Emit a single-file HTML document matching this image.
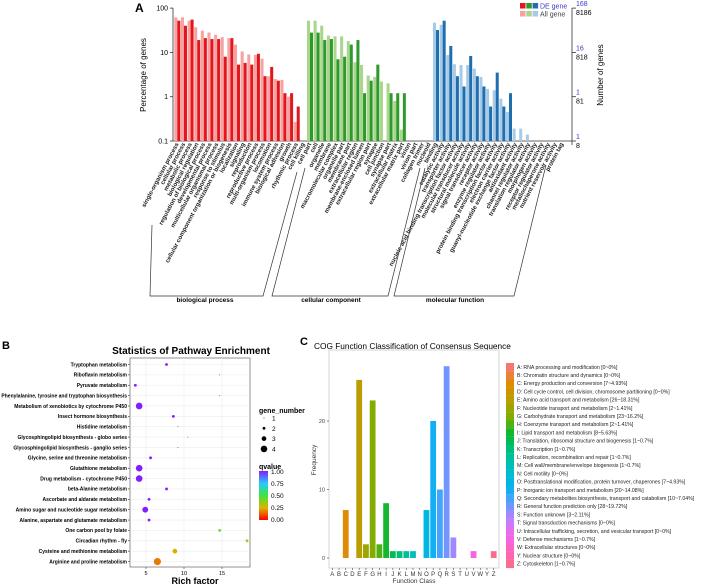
<!DOCTYPE html>
<html><head><meta charset="utf-8"><style>
body{margin:0;background:#fff}
svg{display:block;font-family:"Liberation Sans",sans-serif}
</style></head><body>
<svg id="s" width="708" height="585" viewBox="0 0 708 585" xmlns="http://www.w3.org/2000/svg"></svg>
<script>
// ---------- Panel A data ----------
const goCats = ["single-organism process","cellular process","metabolic process","biological regulation","regulation of biological process","developmental process","multicellular organismal process","response to stimulus","cellular component organization or biogenesis","localization","signaling","reproduction","reproductive process","multi-organism process","locomotion","immune system process","biological adhesion","growth","rhythmic process","cell killing",
"cell part","cell","organelle","membrane","macromolecular complex","organelle part","membrane part","extracellular region","membrane-enclosed lumen","extracellular region part","synapse","cell junction","synapse part","extracellular matrix","extracellular matrix part","virion","virion part","collagen trimer","nucleoid",
"binding","catalytic activity","transporter activity","nucleic acid binding transcription factor activity","molecular transducer activity","structural molecule activity","signal transducer activity","receptor activity","enzyme regulator activity","protein binding transcription factor activity","electron carrier activity","guanyl-nucleotide exchange factor activity","antioxidant activity","channel regulator activity","translation regulator activity","morphogen activity","receptor regulator activity","metallochaperone activity","nutrient reservoir activity","protein tag"];
const goGroup = [0,0,0,0,0,0,0,0,0,0,0,0,0,0,0,0,0,0,0,0, 1,1,1,1,1,1,1,1,1,1,1,1,1,1,1,1,1,1,1, 2,2,2,2,2,2,2,2,2,2,2,2,2,2,2,2,2,2,2,2,2];
const allPct = [62,62,52,37,31,28,25,22,21,15,10.5,9,8.8,7.2,2.9,2.5,2.4,1.0,0.27,0,
52,52,40,24,23,23,18,6,5.2,3,2.8,2.2,2.0,0.8,0.18,0,0,0,0,
47,42,8.7,5.4,5.2,5.2,4.3,2.8,1.5,1.4,0.9,0.45,0.19,0.19,0.14,0,0,0,0,0,0];
const dePct = [52,40,55,19,21,20,20,8,21,5.3,5.8,5.3,9.3,2.9,4.7,2.3,1.2,1.2,0.6,0,
28,28,19,20,7,8,15,19,1.2,2.3,5.3,0,1.2,1.2,1.2,0,0,0,0,
32,52,14,2.9,1.7,8.3,2.9,1.7,0.6,3.5,0.6,1.2,0,0,0,0,0,0,0,0,0];
const pctTicks = [0.1,1,10,100];
const pctTickLabels = ["0.1","1","10","100"];
const deTickLabels = ["1","1","16","168"];
const allTickLabels = ["8","81","818","8186"];

// ---------- Panel B data ----------
const pathways = ["Tryptophan metabolism","Riboflavin metabolism","Pyruvate metabolism","Phenylalanine, tyrosine and tryptophan biosynthesis","Metabolism of xenobiotics by cytochrome P450","Insect hormone biosynthesis","Histidine metabolism","Glycosphingolipid biosynthesis - globo series","Glycosphingolipid biosynthesis - ganglio series","Glycine, serine and threonine metabolism","Glutathione metabolism","Drug metabolism - cytochrome P450","beta-Alanine metabolism","Ascorbate and aldarate metabolism","Amino sugar and nucleotide sugar metabolism","Alanine, aspartate and glutamate metabolism","One carbon pool by folate","Circadian rhythm - fly","Cysteine and methionine metabolism","Arginine and proline metabolism"];
const richFactor = [7.7,14.7,3.6,14.7,4.1,8.6,9.2,10.5,9.2,5.6,4.1,4.1,7.7,5.4,4.9,5.4,14.7,18.3,8.8,6.5];
const geneNumber = [2,1,2,1,4,2,1,1,1,2,4,4,2,2,3.6,2,2,2,3,4.3];
const qvalue = [1,1,1,1,1,1,1,1,1,1,1,1,1,1,1,1,0.42,0.3,0.24,0.17];
const richTicks = [5,10,15];
const qTicks = [0,0.25,0.5,0.75,1];

// ---------- Panel C data ----------
const cogClasses = ["A","B","C","D","E","F","G","H","I","J","K","L","M","N","O","P","Q","R","S","T","U","V","W","Y","Z"];
const cogFreq = [0,0,7,0,26,2,23,2,8,1,1,1,1,0,7,20,10,28,3,0,0,1,0,0,1];
const cogDesc = ["A: RNA processing and modification [0~0%]","B: Chromatin structure and dynamics [0~0%]","C: Energy production and conversion [7~4.93%]","D: Cell cycle control, cell division, chromosome partitioning [0~0%]","E: Amino acid transport and metabolism [26~18.31%]","F: Nucleotide transport and metabolism [2~1.41%]","G: Carbohydrate transport and metabolism [23~16.2%]","H: Coenzyme transport and metabolism [2~1.41%]","I: Lipid transport and metabolism [8~5.63%]","J: Translation, ribosomal structure and biogenesis [1~0.7%]","K: Transcription [1~0.7%]","L: Replication, recombination and repair [1~0.7%]","M: Cell wall/membrane/envelope biogenesis [1~0.7%]","N: Cell motility [0~0%]","O: Posttranslational modification, protein turnover, chaperones [7~4.93%]","P: Inorganic ion transport and metabolism [20~14.08%]","Q: Secondary metabolites biosynthesis, transport and catabolism [10~7.04%]","R: General function prediction only [28~19.72%]","S: Function unknown [3~2.11%]","T: Signal transduction mechanisms [0~0%]","U: Intracellular trafficking, secretion, and vesicular transport [0~0%]","V: Defense mechanisms [1~0.7%]","W: Extracellular structures [0~0%]","Y: Nuclear structure [0~0%]","Z: Cytoskeleton [1~0.7%]"];
const freqTicks = [0,10,20];

const svg = document.getElementById('s');
const NS = "http://www.w3.org/2000/svg";
function mk(tag, attrs, parent, text){
  const e = document.createElementNS(NS, tag);
  for (const k in attrs) e.setAttribute(k, attrs[k]);
  if (text !== undefined) e.textContent = text;
  (parent || svg).appendChild(e);
  return e;
}
function grp(name){ const g = mk('g', {});   return g; }

// ===================== Panel A =====================
const gA = grp('go-panel-a');
const aL = 174, aR = 572, aBottom = 141, aDec = 44.3;
const slot = (aR - aL) / 60;
const yA = v => aBottom - (Math.log10(v) + 1) * aDec;
const xA = i => aL + i * slot;
const darkC = ['#e3161e', '#2f9a2c', '#1f6fb0'];
const lightC = ['#f6a2a0', '#a9d58c', '#a7cbe6'];
let t = mk('text', {x:135, y:12, 'font-size':12, 'font-weight':'bold'}, gA, 'A');
 
let ax = mk('line', {x1:aL-1, y1:yA(100), x2:aL-1, y2:aBottom, stroke:'#333', 'stroke-width':0.8}, gA);
 
ax = mk('line', {x1:aL-1, y1:aBottom, x2:aR, y2:aBottom, stroke:'#333', 'stroke-width':0.8}, gA);
 
ax = mk('line', {x1:aR, y1:yA(100), x2:aR, y2:aBottom+4, stroke:'#333', 'stroke-width':0.8}, gA);
 
pctTicks.forEach((v, k) => {
  const y = yA(v);
  mk('line', {x1:aL-4, y1:y, x2:aL-1, y2:y, stroke:'#333', 'stroke-width':0.8}, gA);
  const tl = mk('text', {x:aL-6, y:y+2.5, 'font-size':7, 'text-anchor':'end'}, gA, pctTickLabels[k]);
   
  mk('line', {x1:aR, y1:y, x2:aR+4, y2:y, stroke:'#333', 'stroke-width':0.8}, gA);
  const t1 = mk('text', {x:aR+4, y:y-2, 'font-size':7, fill:'#3a3acc'}, gA, deTickLabels[k]);
   
  const t2 = mk('text', {x:aR+4, y:y+7, 'font-size':7}, gA, allTickLabels[k]);
   
});
t = mk('text', {x:0, y:0, 'font-size':8, 'text-anchor':'middle', transform:'translate(146,75) rotate(-90)'}, gA, 'Percentage of genes');
 
t = mk('text', {x:0, y:0, 'font-size':8, 'text-anchor':'middle', transform:'translate(603,75) rotate(-90)'}, gA, 'Number of genes');
 
goCats.forEach((c, i) => {
  const g = goGroup[i], x = xA(i), bw = slot/2 - 0.3;
  if (allPct[i] > 0) {
    const r = mk('rect', {x:x+0.3, y:yA(allPct[i]), width:bw, height:aBottom - yA(allPct[i]), fill:lightC[g]}, gA);
     
  }
  if (dePct[i] > 0) {
    const r = mk('rect', {x:x+slot/2, y:yA(dePct[i]), width:bw, height:aBottom - yA(dePct[i]), fill:darkC[g]}, gA);
     
  }
  const cx = x + slot/2 + 1.5;
  const lb = mk('text', {x:0, y:0, 'font-size':6.1, 'font-weight':'bold', 'text-anchor':'end', fill:'#222', transform:`translate(${cx},${aBottom+3}) rotate(-62)`}, gA, c);
   
});
const brk = [['biological process', 205], ['cellular component', 331], ['molecular function', 455]];
let pl = mk('polyline', {points:'152,225 150,296 263,296 297,172', fill:'none', stroke:'#333', 'stroke-width':0.7}, gA);
 
pl = mk('polyline', {points:'305,168 272,296 388,296 420,168', fill:'none', stroke:'#333', 'stroke-width':0.7}, gA);
 
pl = mk('polyline', {points:'425,168 394,296 514,296 546,165', fill:'none', stroke:'#333', 'stroke-width':0.7}, gA);
 
brk.forEach(b => {
  const bt = mk('text', {x:b[1], y:302, 'font-size':6.5, 'font-weight':'bold', 'text-anchor':'middle'}, gA, b[0]);
   
});
const gLeg = grp('go-legend');
[0,1,2].forEach(k => {
  mk('rect', {x:520+k*6.3, y:3, width:5.5, height:5.5, fill:darkC[k]}, gLeg);
  mk('rect', {x:520+k*6.3, y:11, width:5.5, height:5.5, fill:lightC[k]}, gLeg);
});
t = mk('text', {x:540, y:8.5, 'font-size':7, fill:'#3a3acc'}, gLeg, 'DE gene');
 
t = mk('text', {x:540, y:16.5, 'font-size':7, fill:'#444'}, gLeg, 'All gene');
 

// ===================== Panel B =====================
const gB = grp('pathway-panel-b');
const bL = 130, bR = 250, bT = 358, bB = 567;
const xB = v => 108 + v * 7.6;
const yB = i => 364.5 + i * 10.37;
t = mk('text', {x:2, y:349, 'font-size':11, 'font-weight':'bold'}, gB, 'B');
 
t = mk('text', {x:191, y:354, 'font-size':10, 'font-weight':'bold', 'text-anchor':'middle'}, gB, 'Statistics of Pathway Enrichment');
 
let pa = mk('rect', {x:bL, y:bT, width:bR-bL, height:bB-bT, fill:'#fff', stroke:'#777', 'stroke-width':0.8}, gB);
 
richTicks.forEach(v => {
  mk('line', {x1:xB(v), y1:bT, x2:xB(v), y2:bB, stroke:'#ececec', 'stroke-width':0.6}, gB);
  mk('line', {x1:xB(v), y1:bB, x2:xB(v), y2:bB+2, stroke:'#333', 'stroke-width':0.6}, gB);
  const tl = mk('text', {x:xB(v), y:bB+8, 'font-size':5.5, 'text-anchor':'middle'}, gB, String(v));
   
});
function qColor(q){
  const stops = [[0,[255,0,0]],[0.25,[220,180,0]],[0.5,[60,230,60]],[0.75,[40,200,255]],[1,[130,30,255]]];
  for (let k = 1; k < stops.length; k++) {
    if (q <= stops[k][0]) {
      const a = stops[k-1], b = stops[k], f = (q - a[0])/(b[0]-a[0]);
      return 'rgb(' + a[1].map((c,j)=>Math.round(c + (b[1][j]-c)*f)).join(',') + ')';
    }
  }
  return 'rgb(130,30,255)';
}
const rB = n => 0.45 + (n-1) * 0.95;
pathways.forEach((p, i) => {
  const y = yB(i);
  mk('line', {x1:bL, y1:y, x2:bR, y2:y, stroke:'#ececec', 'stroke-width':0.6}, gB);
  mk('line', {x1:bL-2, y1:y, x2:bL, y2:y, stroke:'#333', 'stroke-width':0.6}, gB);
  const lb = mk('text', {x:bL-3, y:y+1.8, 'font-size':5, 'font-weight':'bold', 'text-anchor':'end'}, gB, p);
   
  const c = mk('circle', {cx:xB(richFactor[i]), cy:y, r:rB(geneNumber[i]), fill:qColor(qvalue[i])}, gB);
   
});
t = mk('text', {x:195, y:584, 'font-size':9, 'font-weight':'bold', 'text-anchor':'middle'}, gB, 'Rich factor');
 
t = mk('text', {x:259, y:413, 'font-size':7, 'font-weight':'bold'}, gB, 'gene_number');
 
[1,2,3,4].forEach((n, k) => {
  const y = 418 + k*10.3;
  const kc = mk('circle', {cx:264, cy:y, r:rB(n), fill:'#000'}, gB);
   
  const tl = mk('text', {x:272, y:y+2.5, 'font-size':6.5}, gB, String(n));
   
});
t = mk('text', {x:259, y:469, 'font-size':7, 'font-weight':'bold'}, gB, 'qvalue');
 
const defs = mk('defs', {});
const lg = mk('linearGradient', {id:'qg', x1:0, y1:1, x2:0, y2:0}, defs);
[0,0.125,0.25,0.375,0.5,0.625,0.75,0.875,1].forEach(q => mk('stop', {offset:q, 'stop-color':qColor(q)}, lg));
const cb = mk('rect', {x:259, y:471, width:9, height:49, fill:'url(#qg)'}, gB);
 
qTicks.forEach(q => {
  const y = 519.5 - q*48;
  const tl = mk('text', {x:271, y:y+2.5, 'font-size':6.5}, gB, q.toFixed(2));
   
});

// ===================== Panel C =====================
const gC = grp('cog-panel-c');
const cL = 329, cR = 499, cT = 350, cB = 568;
const yC = v => 558 - v * 6.85;
const xC = i => 332.3 + i * 6.725;
t = mk('text', {x:300, y:345, 'font-size':11, 'font-weight':'bold'}, gC, 'C');
 
t = mk('text', {x:314, y:349, 'font-size':8.3}, gC, 'COG Function Classification of Consensus Sequence');
 
pa = mk('rect', {x:cL, y:cT, width:cR-cL, height:cB-cT, fill:'#fff', stroke:'#ccc', 'stroke-width':0.8}, gC);
 
freqTicks.forEach(v => {
  mk('line', {x1:cL-2, y1:yC(v), x2:cL, y2:yC(v), stroke:'#444', 'stroke-width':0.6}, gC);
  const tl = mk('text', {x:cL-4, y:yC(v)+2, 'font-size':5.5, 'text-anchor':'end', fill:'#444'}, gC, String(v));
   
});
const pal = ['#F8766D','#DE8C00','#B79F00','#7CAE00','#00BA38','#00C08B','#00BFC4','#00B4F0','#619CFF','#C77CFF','#F564E3','#FF64B0'];
function hexRgb(h){return [1,3,5].map(k=>parseInt(h.substr(k,2),16));}
function hue(i){
  const tt = i / cogClasses.length * pal.length, k = Math.floor(tt), f = tt - k;
  const a = hexRgb(pal[k % pal.length]), b = hexRgb(pal[(k+1) % pal.length]);
  return 'rgb(' + a.map((c,j)=>Math.round(c+(b[j]-c)*f)).join(',') + ')';
}
cogClasses.forEach((c, i) => {
  const x = xC(i);
  if (cogFreq[i] > 0) {
    const r = mk('rect', {x:x-2.9, y:yC(cogFreq[i]), width:5.8, height:yC(0)-yC(cogFreq[i]), fill:hue(i)}, gC);
     
  }
  mk('line', {x1:x, y1:cB, x2:x, y2:cB+2, stroke:'#444', 'stroke-width':0.6}, gC);
  const tl = mk('text', {x:x, y:cB+8, 'font-size':6, 'text-anchor':'middle', fill:'#333'}, gC, c);
   
  const ly = 363 + i * 8.2;
  const sw = mk('rect', {x:506, y:ly, width:8, height:8.3, fill:hue(i)}, gC);
   
  const lt = mk('text', {x:517, y:ly+5.8, 'font-size':5.2, fill:'#222'}, gC, cogDesc[i]);
   
});
t = mk('text', {x:0, y:0, 'font-size':6.5, 'text-anchor':'middle', fill:'#333', transform:'translate(316,460) rotate(-90)'}, gC, 'Frequency');
 
t = mk('text', {x:414, y:583, 'font-size':6.5, 'text-anchor':'middle', fill:'#333'}, gC, 'Function Class');
 
</script>
</body></html>
